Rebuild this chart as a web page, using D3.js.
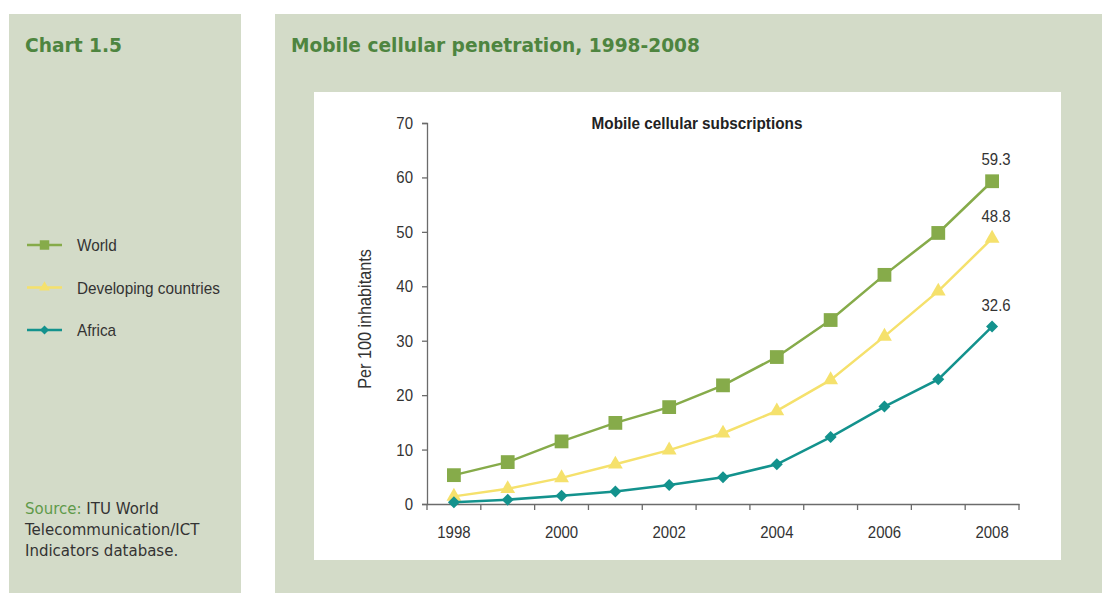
<!DOCTYPE html>
<html>
<head>
<meta charset="utf-8">
<script src="https://cdn.jsdelivr.net/npm/d3@7"></script>
<style>
  body { margin: 0; background: #fff; }
</style>
</head>
<body>
<svg id="chart" width="1112" height="600"></svg>
<script>
// data
const years = [1998, 1999, 2000, 2001, 2002, 2003, 2004, 2005, 2006, 2007, 2008];
const world = [5.3, 7.7, 11.5, 14.9, 17.8, 21.8, 27.0, 33.8, 42.1, 49.8, 59.3];
const developing = [1.4, 2.8, 4.8, 7.3, 9.9, 13.0, 17.1, 22.8, 30.8, 39.1, 48.8];
const africa = [0.3, 0.8, 1.5, 2.3, 3.5, 4.9, 7.3, 12.3, 17.9, 22.9, 32.6];
const seriesNames = ["World", "Developing countries", "Africa"];
const yTicks = [0, 10, 20, 30, 40, 50, 60, 70];
const xLabels = [1998, 2000, 2002, 2004, 2006, 2008];
const sourceLines = ["ITU World", "Telecommunication/ICT", "Indicators database."];

const narrow = "'Liberation Sans Narrow', 'Arial Narrow', 'Liberation Sans', Arial, sans-serif";
const tahoma = "'DejaVu Sans', Verdana, sans-serif";
const panelFill = "#d3dbc8";
const titleGreen = "#4e8540";
const axisGrey = "#6b6b6b";
const textDark = "#333";

const series = [
  { name: seriesNames[0], values: world, color: "#86ab4a", symbol: d3.symbolSquare, size: 190, legendSize: 90, rot: 0 },
  { name: seriesNames[1], values: developing, color: "#f5e16c", symbol: d3.symbolTriangle, size: 95, legendSize: 50, rot: 0 },
  { name: seriesNames[2], values: africa, color: "#13928d", symbol: d3.symbolSquare, size: 72, legendSize: 40, rot: 45 }
];

// the chart font is a condensed Arial; squeeze the installed one to match
function squeeze(sel, k) {
  sel.each(function() {
    const w = this.getComputedTextLength();
    d3.select(this).attr("textLength", w * k).attr("lengthAdjust", "spacingAndGlyphs");
  });
}

const svg = d3.select("#chart");

// background panels
svg.append("rect").attr("x", 9).attr("y", 14).attr("width", 232).attr("height", 579).attr("fill", panelFill);
svg.append("rect").attr("x", 275).attr("y", 14).attr("width", 827).attr("height", 579).attr("fill", panelFill);
svg.append("rect").attr("x", 314).attr("y", 92).attr("width", 747).attr("height", 468).attr("fill", "#fff");

// headings
svg.append("text")
  .attr("x", 25).attr("y", 52)
  .attr("font-family", tahoma).attr("font-weight", "bold").attr("font-size", 20)
  .attr("fill", titleGreen)
  .attr("textLength", 97).attr("lengthAdjust", "spacingAndGlyphs")
  .text("Chart 1.5");

svg.append("text")
  .attr("x", 291).attr("y", 52)
  .attr("font-family", tahoma).attr("font-weight", "bold").attr("font-size", 20)
  .attr("fill", titleGreen)
  .attr("textLength", 409).attr("lengthAdjust", "spacingAndGlyphs")
  .text("Mobile cellular penetration, 1998-2008");

// source note
const src = svg.append("text")
  .attr("font-family", tahoma).attr("font-size", 15)
  .attr("fill", textDark);
src.append("tspan").attr("x", 25).attr("y", 514).attr("fill", "#5f9a4a").text("Source: ");
src.append("tspan").text(sourceLines[0]);
src.selectAll("tspan.more")
  .data(sourceLines.slice(1))
  .enter().append("tspan")
  .attr("class", "more")
  .attr("x", 25)
  .attr("y", (d, i) => 535 + i * 20.5)
  .text(d => d);

// scales
const x = d3.scaleBand().domain(years).range([427, 1019]);
const y = d3.scaleLinear().domain([0, 70]).range([504, 123]);
const cx = d => x(d) + x.bandwidth() / 2;

// y axis
const yAxis = svg.append("g")
  .attr("transform", "translate(427,0)")
  .call(d3.axisLeft(y).tickValues(yTicks).tickSize(5).tickPadding(9));
yAxis.selectAll("path, line").attr("stroke", axisGrey).attr("stroke-width", 1.3);
yAxis.selectAll("text").attr("font-family", narrow).attr("font-size", 17).attr("fill", textDark)
  .call(squeeze, 0.88);

// x axis: labels centred on every other band, tick marks at band edges
const xAxis = svg.append("g")
  .attr("transform", "translate(0,504)")
  .call(d3.axisBottom(x).tickValues(xLabels).tickSize(0).tickSizeOuter(0).tickPadding(22));
xAxis.selectAll("path").attr("stroke", axisGrey).attr("stroke-width", 1.3);
xAxis.selectAll("text").attr("font-family", narrow).attr("font-size", 17).attr("fill", textDark)
  .call(squeeze, 0.88);
xAxis.selectAll("line.edge")
  .data(years.map(d => x(d)).concat([x.range()[1]]))
  .enter().append("line")
  .attr("class", "edge")
  .attr("x1", d => d).attr("x2", d => d)
  .attr("y1", 0).attr("y2", 6)
  .attr("stroke", axisGrey).attr("stroke-width", 1.3);

// chart title and y label
svg.append("text")
  .attr("x", 697).attr("y", 129)
  .attr("text-anchor", "middle")
  .attr("font-family", narrow).attr("font-weight", "bold").attr("font-size", 17)
  .attr("fill", "#222")
  .text("Mobile cellular subscriptions")
  .call(squeeze, 0.9);

svg.append("text")
  .attr("transform", "translate(371,319) rotate(-90)")
  .attr("text-anchor", "middle")
  .attr("font-family", narrow).attr("font-size", 18)
  .attr("fill", textDark)
  .text("Per 100 inhabitants")
  .call(squeeze, 0.9);

// lines and markers
const line = d3.line()
  .x((d, i) => cx(years[i]))
  .y(d => y(d));

series.forEach(s => {
  svg.append("path")
    .datum(s.values)
    .attr("d", line)
    .attr("fill", "none")
    .attr("stroke", s.color)
    .attr("stroke-width", 2.5);

  svg.append("g").selectAll("path")
    .data(s.values)
    .enter().append("path")
    .attr("d", d3.symbol(s.symbol, s.size))
    .attr("transform", (d, i) => `translate(${cx(years[i])},${y(d)}) rotate(${s.rot})`)
    .attr("fill", s.color);

  const last = s.values[s.values.length - 1];
  svg.append("text")
    .attr("x", cx(years[years.length - 1]) + 4)
    .attr("y", y(last) - 16)
    .attr("text-anchor", "middle")
    .attr("font-family", narrow).attr("font-size", 17)
    .attr("fill", textDark)
    .text(d3.format(".1f")(last))
    .call(squeeze, 0.88);
});

// legend in the left panel
const legend = svg.append("g").selectAll("g")
  .data(series)
  .enter().append("g")
  .attr("transform", (d, i) => `translate(0,${245 + i * 42.5})`);

legend.append("line")
  .attr("x1", 27).attr("x2", 62)
  .attr("stroke", d => d.color).attr("stroke-width", 2.5);
legend.append("path")
  .attr("d", d => d3.symbol(d.symbol, d.legendSize)())
  .attr("transform", d => `translate(44.5,0) rotate(${d.rot})`)
  .attr("fill", d => d.color);
legend.append("text")
  .attr("x", 77).attr("y", 6)
  .attr("font-family", narrow).attr("font-size", 17)
  .attr("fill", textDark)
  .text(d => d.name)
  .call(squeeze, 0.9);
</script>
</body>
</html>
